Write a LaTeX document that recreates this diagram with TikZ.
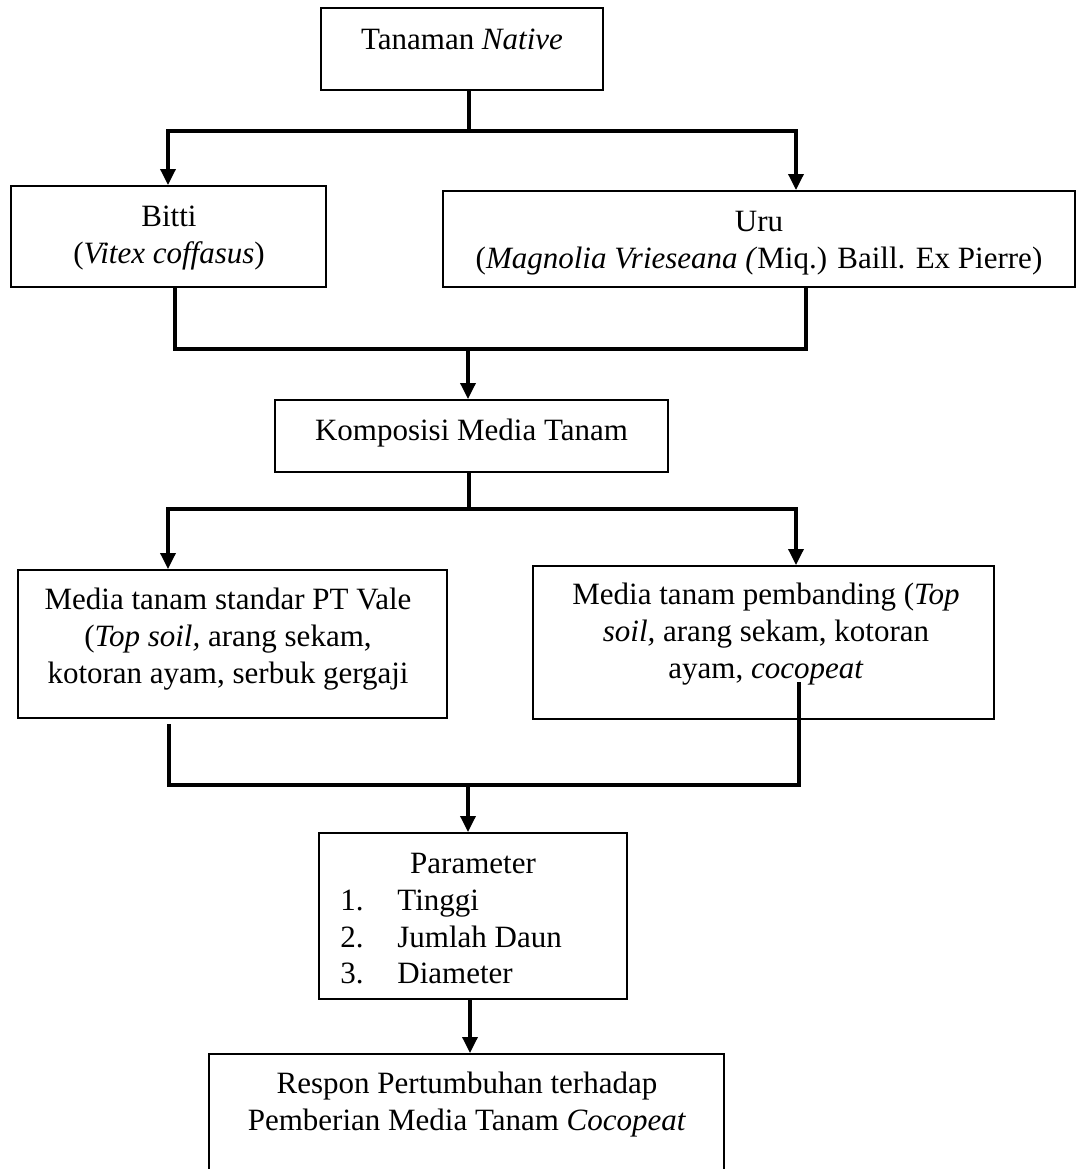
\documentclass[tikz,border=0pt]{standalone}
\usepackage{fontspec}
\setmainfont{Liberation Serif}
\usetikzlibrary{arrows.meta}
\begin{document}
\begin{tikzpicture}[x=0.5pt,y=-0.5pt,
  box/.style={draw, line width=1pt, inner sep=0pt},
  conn/.style={line width=1.7pt},
  arr/.style={conn, -{Triangle[length=8pt,width=7.5pt]}},
  txt/.style={font=\fontsize{15.5}{18}\selectfont, inner sep=0pt, anchor=base},
  ltxt/.style={txt, anchor=base west}]
\useasboundingbox (0,0) rectangle (1077,1169);
\clip (0,0) rectangle (1077,1169);
\fill[white] (0,0) rectangle (1077,1169);

% boxes
\node[box, minimum width=141pt, minimum height=41pt] (tan) at (462,49) {};
\node[box, minimum width=157.5pt, minimum height=50.5pt] (bitti) at (168.5,236.5) {};
\node[box, minimum width=316pt, minimum height=48pt] (uru) at (759,239) {};
\node[box, minimum width=196.5pt, minimum height=36pt] (komp) at (471.5,436) {};
\node[box, minimum width=214.5pt, minimum height=74pt] (medl) at (232.5,644) {};
\node[box, minimum width=230.5pt, minimum height=76.5pt] (medr) at (763.5,642.5) {};
\node[box, minimum width=154pt, minimum height=83pt] (param) at (473,916) {};
\node[box, minimum width=257.5pt, minimum height=68pt] (resp) at (466.5,1122) {};

% texts
\node[txt] (t1) at (462,49) {Tanaman \textit{Native}};
\node[txt] (t2a) at (169,226) {Bitti};
\node[txt] (t2b) at (169,263) {(\textit{Vitex coffasus})};
\node[txt] (t3a) at (759,231) {Uru};
\node[txt] (t3b) at (759,268) {(\textit{Magnolia Vrieseana (}Miq.) Baill. Ex Pierre)};
\node[txt] (t4) at (471.5,440) {Komposisi Media Tanam};
\node[txt] (t5a) at (228,609) {Media tanam standar PT Vale};
\node[txt] (t5b) at (228,646) {(\textit{Top soil,} arang sekam,};
\node[txt] (t5c) at (228,683) {kotoran ayam, serbuk gergaji};
\node[txt] (t6a) at (766,604) {Media tanam pembanding (\textit{Top}};
\node[txt] (t6b) at (766,641) {\textit{soil,} arang sekam, kotoran};
\node[txt] (t6c) at (766,678) {ayam, \textit{cocopeat}};
\node[txt] (t7) at (473,873) {Parameter};
\node[ltxt] (n1) at (340,910) {1.};
\node[ltxt] (w1) at (397,910) {Tinggi};
\node[ltxt] (n2) at (340,947) {2.};
\node[ltxt] (w2) at (397,947) {Jumlah Daun};
\node[ltxt] (n3) at (340,983) {3.};
\node[ltxt] (w3) at (397,983) {Diameter};
\node[txt] (t8a) at (467,1093) {Respon Pertumbuhan terhadap};
\node[txt] (t8b) at (467,1130) {Pemberian Media Tanam \textit{Cocopeat}};

% connectors: level 1
\coordinate (j1) at (469,131);
\coordinate (j1l) at (168,131);
\coordinate (j1r) at (796,131);
\draw[conn] (tan.south -| j1) -- (j1);
\draw[arr] (j1) -- (j1l) -- (j1l |- bitti.north);
\draw[arr] (j1) -- (j1r) -- (j1r |- uru.north);

% level 2
\coordinate (j2l) at (175,349);
\coordinate (j2r) at (806,349);
\coordinate (j2m) at (468,349);
\draw[conn] (bitti.south -| j2l) -- (j2l) -- (j2r) -- (uru.south -| j2r);
\draw[arr] (j2m) -- (j2m |- komp.north);

% level 3
\coordinate (j3) at (469,509);
\coordinate (j3l) at (168,509);
\coordinate (j3r) at (796,509);
\draw[conn] (komp.south -| j3) -- (j3);
\draw[arr] (j3) -- (j3l) -- (j3l |- medl.north);
\draw[arr] (j3) -- (j3r) -- (j3r |- medr.north);

% level 4
\coordinate (s4l) at (169,724);
\coordinate (j4l) at (169,785);
\coordinate (j4r) at (799,785);
\coordinate (s4r) at (799,682);
\coordinate (j4m) at (468,785);
\draw[conn] (s4l) -- (j4l) -- (j4r) -- (s4r);
\draw[arr] (j4m) -- (j4m |- param.north);

% level 5
\coordinate (j5) at (470,1000);
\draw[arr] (param.south -| j5) -- (j5 |- resp.north);
\end{tikzpicture}
\end{document}
